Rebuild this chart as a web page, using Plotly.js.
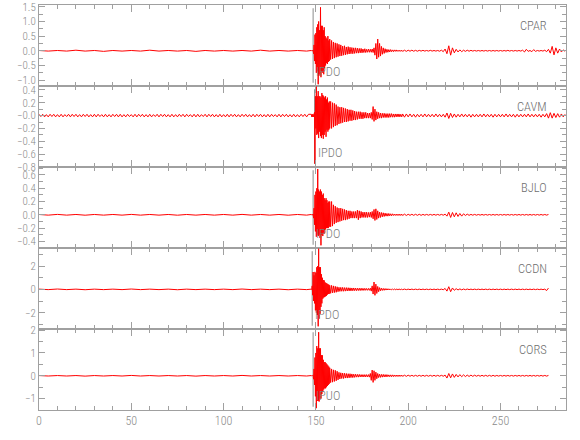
<!DOCTYPE html>
<html><head><meta charset="utf-8">
<script src="https://cdn.plot.ly/plotly-3.0.1.min.js"></script>
<style>html,body{margin:0;padding:0;background:#fff}#chart{width:580px;height:440px}</style>
</head><body><div id="chart"></div>
<script>
const stations = ["CPAR", "CAVM", "BJLO", "CCDN", "CORS"];
const phaseLabels = ["IPDO", "IPDO", "IPDO", "IPDO", "IPUO"];
const pickTimes = [148.5, 149.3, 148.5, 148.0, 148.5];
const xTickVals = [0, 50, 100, 150, 200, 250];
const xTickText = ["0", "50", "100", "150", "200", "250"];
const cavmTickVals = [0.4, 0.2, 0, -0.2, -0.4, -0.6, -0.8];
const cavmTickText = ["0.4", "0.2", "\u22120.0", "\u22120.2", "\u22120.4", "\u22120.6", "\u22120.8"];

// sampling (seconds)
const preStep = [5, 1, 5, 5, 5];          // pre-event, from t = 0
const earlyStart = 147.5, earlyStep = 0.25; // onset segment
const mainStart = 157.5, mainStep = 0.5;   // coda segment
const tailStart = 198, tailStep = 1;       // late segment

// ---- CPAR ----
const cparPre = [0.01,-0.01,0.01,-0.01,0.02,-0.01,0.01,-0.02,0.01,-0.01,
 0.01,-0.01,0.02,-0.01,0.01,-0.01,0.01,-0.02,0.01,-0.01,
 0.01,-0.01,0.01,-0.01,0.02,-0.01,0.01,-0.01,0.01,-0.01];
const cparEarly = [0.01,-0.01,0.01,-0.01,0.02,-0.1,0.2,-0.35,0.55,-0.45,
 0.6,-0.75,0.8,-0.7,0.9,-1.14,1.0,-0.8,0.7,-0.85,
 1.48,-0.9,0.85,-0.7,0.85,-0.75,0.7,-0.8,0.8,-0.6,
 0.5,-0.5,0.45,-0.42,0.4,-0.45,0.5,-0.38,0.35,-0.35];
const cparMain = [0.4,-0.3,0.35,-0.28,0.3,-0.25,0.27,-0.22,0.25,-0.2,
 0.22,-0.18,0.2,-0.17,0.16,-0.15,0.17,-0.14,0.13,-0.12,
 0.14,-0.11,0.12,-0.1,0.11,-0.1,0.1,-0.09,0.1,-0.08,
 0.09,-0.08,0.08,-0.07,0.08,-0.07,0.06,-0.06,0.07,-0.06,
 0.05,-0.05,0.06,-0.05,0.05,-0.05,0.06,-0.06,0.1,-0.15,
 0.25,-0.28,0.4,-0.22,0.25,-0.18,0.15,-0.12,0.1,-0.09,
 0.07,-0.06,0.05,-0.05,0.04,-0.04,0.04,-0.03,0.03,-0.03,
 0.03,-0.02,0.03,-0.02,0.02,-0.02,0.02,-0.02,0.02,-0.02];
const cparTail = [0.02,-0.02,0.02,-0.015,0.02,-0.015,0.015,-0.015,0.015,-0.01,
 0.015,-0.01,0.01,-0.01,0.015,-0.01,0.01,-0.01,0.01,-0.015,
 0.02,-0.03,0.06,-0.1,0.17,-0.15,0.1,-0.07,0.05,-0.04,
 0.03,-0.03,0.02,-0.02,0.02,-0.015,0.015,-0.01,0.01,-0.01,
 0.01,-0.01,0.01,-0.01,0.01,-0.01,0.01,-0.01,0.01,-0.01,
 0.01,-0.01,0.01,-0.01,0.01,-0.01,0.015,-0.01,0.01,-0.01,
 0.01,-0.01,0.01,-0.01,0.02,-0.04,0.05,-0.02,0.01,-0.03,
 0.04,-0.02,0.01,-0.01,0.01,-0.01,0.02,-0.03,0.05,-0.08,
 0.15,-0.14,0.1,-0.08,0.06,-0.04,0.03,-0.02];

// ---- CAVM ----
const cavmPre = [0.02,-0.015,0.02,-0.02,0.015,-0.02,0.02,-0.015,0.02,-0.02,
 0.015,-0.02,0.02,-0.02,0.015,-0.015,0.02,-0.02,0.02,-0.015,
 0.02,-0.02,0.015,-0.02,0.02,-0.015,0.02,-0.02,0.015,-0.02,
 0.02,-0.02,0.02,-0.015,0.015,-0.02,0.02,-0.02,0.015,-0.02,
 0.02,-0.015,0.02,-0.02,0.02,-0.02,0.015,-0.02,0.02,-0.015,
 0.015,-0.02,0.02,-0.02,0.02,-0.015,0.02,-0.02,0.015,-0.02,
 0.02,-0.02,0.015,-0.015,0.02,-0.02,0.02,-0.015,0.02,-0.02,
 0.015,-0.02,0.02,-0.02,0.015,-0.02,0.02,-0.015,0.02,-0.02,
 0.02,-0.015,0.015,-0.02,0.02,-0.02,0.02,-0.02,0.015,-0.015,
 0.02,-0.02,0.02,-0.015,0.02,-0.02,0.015,-0.02,0.02,-0.02,
 0.015,-0.02,0.02,-0.02,0.02,-0.015,0.02,-0.02,0.015,-0.02,
 0.02,-0.015,0.02,-0.02,0.015,-0.02,0.02,-0.02,0.02,-0.015,
 0.02,-0.02,0.015,-0.02,0.02,-0.02,0.02,-0.015,0.015,-0.02,
 0.02,-0.02,0.02,-0.015,0.02,-0.02,0.015,-0.02,0.02,-0.02,
 0.015,-0.02,0.02,-0.015,0.02,-0.02,0.02];
const cavmEarly = [0.02,-0.02,0.02,-0.02,0.02,-0.02,0.02,0.05,-0.75,0.3,
 -0.2,0.45,-0.3,0.3,-0.28,0.38,-0.35,0.3,-0.25,0.3,
 -0.32,0.28,-0.35,0.35,-0.3,0.32,-0.36,0.3,-0.3,0.28,
 -0.25,0.3,-0.33,0.25,-0.22,0.28,-0.25,0.2,-0.22,0.22];
const cavmMain = [-0.2,0.22,-0.2,0.2,-0.18,0.19,-0.16,0.17,-0.15,0.14,
 -0.13,0.13,-0.12,0.13,-0.11,0.12,-0.1,0.11,-0.1,0.1,
 -0.09,0.09,-0.08,0.09,-0.08,0.08,-0.07,0.07,-0.07,0.06,
 -0.06,0.06,-0.05,0.06,-0.05,0.05,-0.05,0.05,-0.04,0.05,
 -0.04,0.04,-0.04,0.04,-0.04,0.05,-0.06,0.14,-0.09,0.1,
 -0.07,0.06,-0.05,0.05,-0.04,0.04,-0.04,0.035,-0.03,0.035,
 -0.03,0.03,-0.03,0.03,-0.03,0.03,-0.025,0.03,-0.025,0.025,
 -0.025,0.025,-0.02,0.025,-0.02,0.025,-0.02,0.02,-0.02,0.025];
const cavmTail = [-0.025,0.025,-0.02,0.025,-0.02,0.02,-0.025,0.02,-0.02,0.02,
 -0.02,0.025,-0.02,0.02,-0.02,0.02,-0.02,0.025,-0.02,0.02,
 -0.02,0.02,-0.025,0.04,-0.045,0.035,-0.03,0.025,-0.025,0.02,
 -0.02,0.025,-0.02,0.02,-0.02,0.02,-0.025,0.02,-0.02,0.02,
 -0.02,0.02,-0.02,0.025,-0.02,0.02,-0.02,0.02,-0.025,0.02,
 -0.02,0.02,-0.02,0.02,-0.02,0.025,-0.02,0.02,-0.02,0.02,
 -0.025,0.02,-0.02,0.02,-0.02,0.02,-0.02,0.025,-0.02,0.02,
 -0.02,0.02,-0.02,0.02,-0.025,0.02,-0.02,0.03,-0.04,0.045,
 -0.04,0.035,-0.03,0.03,-0.025,0.025,-0.02,0.02];

// ---- BJLO ----
const bjloPre = [0.005,-0.005,0.006,-0.005,0.005,-0.006,0.005,-0.005,0.005,-0.005,
 0.006,-0.005,0.005,-0.005,0.005,-0.006,0.005,-0.005,0.005,-0.005,
 0.005,-0.005,0.006,-0.005,0.005,-0.005,0.005,-0.006,0.005,-0.005];
const bjloEarly = [0.005,-0.005,0.005,-0.005,0.01,-0.05,0.1,-0.15,0.3,-0.25,
 0.35,-0.33,0.4,-0.3,0.69,-0.32,0.38,-0.3,0.35,-0.35,
 0.38,-0.46,0.35,-0.3,0.3,-0.32,0.32,-0.28,0.25,-0.28,
 0.22,-0.22,0.25,-0.2,0.22,-0.2,0.18,-0.2,0.2,-0.18];
const bjloMain = [0.2,-0.18,0.2,-0.17,0.15,-0.14,0.13,-0.12,0.11,-0.11,
 0.1,-0.1,0.1,-0.09,0.09,-0.08,0.08,-0.08,0.07,-0.07,
 0.06,-0.06,0.06,-0.05,0.05,-0.05,0.05,-0.05,0.05,-0.05,
 0.07,-0.075,0.06,-0.05,0.05,-0.04,0.04,-0.04,0.04,-0.04,
 0.04,-0.04,0.035,-0.035,0.04,-0.04,0.05,-0.06,0.08,-0.085,
 0.09,-0.07,0.06,-0.05,0.04,-0.04,0.035,-0.03,0.03,-0.025,
 0.025,-0.02,0.02,-0.02,0.02,-0.015,0.015,-0.015,0.015,-0.01,
 0.01,-0.01,0.01,-0.01,0.01,-0.01,0.01,-0.01,0.01,-0.01];
const bjloTail = [0.01,-0.01,0.008,-0.008,0.008,-0.008,0.008,-0.008,0.008,-0.008,
 0.006,-0.006,0.006,-0.006,0.006,-0.006,0.006,-0.006,0.006,-0.006,
 0.006,-0.006,0.01,-0.02,0.04,-0.04,0.035,-0.03,0.03,-0.025,
 0.02,-0.02,0.015,-0.01,0.01,-0.008,0.006,-0.006,0.006,-0.006,
 0.005,-0.005,0.005,-0.005,0.005,-0.005,0.005,-0.005,0.005,-0.005,
 0.005,-0.005,0.005,-0.005,0.005,-0.005,0.005,-0.005,0.005,-0.005,
 0.005,-0.005,0.005,-0.005,0.005,-0.005,0.005,-0.005,0.005,-0.005,
 0.005,-0.005,0.005,-0.005,0.005,-0.005,0.005,-0.005,0.005];

// ---- CCDN ----
const ccdnPre = [0.02,-0.02,0.03,-0.02,0.02,-0.03,0.02,-0.02,0.02,-0.02,
 0.03,-0.02,0.02,-0.02,0.02,-0.03,0.02,-0.02,0.02,-0.02,
 0.02,-0.02,0.03,-0.02,0.02,-0.02,0.02,-0.03,0.02,-0.02];
const ccdnEarly = [0.02,-0.02,0.3,-0.5,1.49,-1.0,1.2,-1.2,1.5,-1.8,
 1.4,-2.0,1.9,-2.2,2.0,-3.17,3.49,-2.5,1.9,-2.1,
 1.9,-1.5,1.3,-1.2,1.0,-0.8,0.8,-0.7,0.77,-0.66,
 0.6,-0.6,0.55,-0.55,0.5,-0.45,0.45,-0.4,0.4,-0.38];
const ccdnMain = [0.35,-0.34,0.34,-0.3,0.3,-0.28,0.26,-0.25,0.22,-0.2,
 0.18,-0.17,0.17,-0.16,0.17,-0.16,0.15,-0.15,0.15,-0.14,
 0.14,-0.13,0.13,-0.13,0.12,-0.12,0.12,-0.11,0.11,-0.11,
 0.1,-0.1,0.1,-0.1,0.1,-0.09,0.09,-0.09,0.09,-0.08,
 0.08,-0.08,0.08,-0.08,0.1,-0.15,0.3,-0.4,0.63,-0.51,
 0.45,-0.35,0.25,-0.2,0.15,-0.12,0.1,-0.09,0.08,-0.08,
 0.07,-0.06,0.06,-0.05,0.05,-0.05,0.04,-0.04,0.04,-0.04,
 0.035,-0.035,0.03,-0.03,0.03,-0.03,0.03,-0.03,0.025,-0.025];
const ccdnTail = [0.025,-0.025,0.02,-0.02,0.02,-0.02,0.02,-0.02,0.02,-0.02,
 0.02,-0.02,0.02,-0.02,0.02,-0.02,0.02,-0.02,0.02,-0.02,
 0.02,-0.03,0.08,-0.15,0.23,-0.2,0.12,-0.08,0.06,-0.05,
 0.04,-0.04,0.03,-0.03,0.03,-0.02,0.02,-0.02,0.02,-0.02,
 0.02,-0.02,0.02,-0.02,0.02,-0.02,0.02,-0.02,0.02,-0.02,
 0.02,-0.02,0.02,-0.02,0.02,-0.02,0.02,-0.02,0.02,-0.02,
 0.02,-0.02,0.02,-0.02,0.02,-0.02,0.02,-0.02,0.02,-0.02,
 0.02,-0.02,0.02,-0.02,0.02,-0.02,0.02,-0.1,0.11];

// ---- CORS ----
const corsPre = [0.01,-0.01,0.01,-0.01,0.01,-0.015,0.01,-0.01,0.01,-0.01,
 0.015,-0.01,0.01,-0.01,0.01,-0.01,0.01,-0.015,0.01,-0.01,
 0.01,-0.01,0.015,-0.01,0.01,-0.01,0.01,-0.01,0.01,-0.01];
const corsEarly = [0.01,-0.01,0.01,-0.01,0.02,-0.15,0.3,-0.4,0.8,-0.9,
 1.0,-1.42,1.3,-1.1,1.2,-1.1,1.91,-1.13,1.2,-1.0,
 1.2,-1.0,0.9,-0.8,0.9,-0.7,0.7,-0.6,0.6,-0.55,
 0.6,-0.55,0.55,-0.5,0.5,-0.45,0.45,-0.4,0.4,-0.35];
const corsMain = [0.35,-0.3,0.3,-0.28,0.26,-0.25,0.24,-0.22,0.2,-0.18,
 0.15,-0.14,0.13,-0.12,0.12,-0.12,0.11,-0.1,0.1,-0.1,
 0.09,-0.09,0.09,-0.08,0.08,-0.08,0.07,-0.07,0.07,-0.06,
 0.06,-0.06,0.06,-0.05,0.05,-0.05,0.05,-0.05,0.05,-0.05,
 0.05,-0.05,0.05,-0.06,0.1,-0.2,0.25,-0.29,0.22,-0.2,
 0.16,-0.13,0.1,-0.08,0.07,-0.07,0.06,-0.06,0.06,-0.05,
 0.05,-0.05,0.05,-0.04,0.04,-0.04,0.04,-0.04,0.04,-0.035,
 0.035,-0.03,0.03,-0.03,0.03,-0.03,0.03,-0.025,0.03,-0.025];
const corsTail = [0.025,-0.025,0.025,-0.02,0.02,-0.02,0.02,-0.02,0.02,-0.02,
 0.02,-0.02,0.02,-0.02,0.02,-0.02,0.02,-0.02,0.02,-0.02,
 0.02,-0.02,0.03,-0.1,0.1,-0.09,0.08,-0.07,0.06,-0.05,
 0.05,-0.04,0.04,-0.035,0.03,-0.03,0.03,-0.025,0.025,-0.02,
 0.02,-0.02,0.02,-0.02,0.02,-0.02,0.02,-0.02,0.02,-0.02,
 0.015,-0.015,0.015,-0.015,0.015,-0.015,0.015,-0.015,0.015,-0.015,
 0.015,-0.015,0.015,-0.015,0.015,-0.015,0.015,-0.015,0.015,-0.015,
 0.015,-0.015,0.015,-0.015,0.015,-0.015,0.015,-0.015,0.015];

const preData = [cparPre, cavmPre, bjloPre, ccdnPre, corsPre];
const earlyData = [cparEarly, cavmEarly, bjloEarly, ccdnEarly, corsEarly];
const mainData = [cparMain, cavmMain, bjloMain, ccdnMain, corsMain];
const tailData = [cparTail, cavmTail, bjloTail, ccdnTail, corsTail];

// ---- layout settings ----
const yRanges = [[-1.2, 1.56], [-0.8, 0.46], [-0.5, 0.72], [-3.4, 3.55], [-1.5, 2.05]];
const yDticks = [0.5, 0.2, 0.2, 2, 1];
const yMinor = [0.25, 0.1, 0.1, 1, 0.5];
const yFormats = [".1f", ".1f", ".1f", "d", "d"];

const FONT = '"Roboto Condensed", "Open Sans", sans-serif';
const AX = '#a0a0a0';
const TXT = '#8a8a8a';

const traces = stations.map((s, i) => {
  const x = [], y = [];
  preData[i].forEach((v, j) => { x.push(j * preStep[i]); y.push(v); });
  earlyData[i].forEach((v, j) => { x.push(earlyStart + j * earlyStep); y.push(v); });
  mainData[i].forEach((v, j) => { x.push(mainStart + j * mainStep); y.push(v); });
  tailData[i].forEach((v, j) => { x.push(tailStart + j * tailStep); y.push(v); });
  const k = i + 1;
  return {
    type: 'scatter', mode: 'lines', x: x, y: y, name: s,
    xaxis: k === 1 ? 'x' : 'x' + k, yaxis: k === 1 ? 'y' : 'y' + k,
    line: { color: '#ff0000', width: 1.0, simplify: false },
    hoverinfo: 'skip', showlegend: false
  };
});

const layout = {
  width: 580, height: 440,
  margin: { l: 39, r: 14, t: 5, b: 30 },
  paper_bgcolor: '#ffffff', plot_bgcolor: '#ffffff',
  font: { family: FONT, size: 12, color: TXT, weight: 300 },
  showlegend: false,
  shapes: [], annotations: []
};

const n = stations.length;
for (let i = 0; i < n; i++) {
  const k = i + 1;
  const xa = k === 1 ? 'xaxis' : 'xaxis' + k;
  const ya = k === 1 ? 'yaxis' : 'yaxis' + k;
  const xid = k === 1 ? 'x' : 'x' + k;
  const yid = k === 1 ? 'y' : 'y' + k;
  layout[xa] = {
    range: [0, 285.5], anchor: yid, domain: [0, 1],
    showline: true, linecolor: AX, linewidth: 1, mirror: 'ticks',
    ticks: 'inside', ticklen: 7, tickcolor: AX, tickwidth: 1,
    tickvals: xTickVals, ticktext: xTickText,
    minor: { ticks: 'inside', ticklen: 4, dtick: 10, tick0: 0, tickcolor: AX, showgrid: false },
    showticklabels: k === n, showgrid: false, zeroline: false,
    tickfont: { family: FONT, size: 12, color: TXT, weight: 300 }
  };
  const yax = {
    range: yRanges[i], anchor: xid,
    domain: [1 - k / n, 1 - i / n],
    showline: true, linecolor: AX, linewidth: 1, mirror: 'ticks',
    ticks: 'inside', ticklen: 6, tickcolor: AX, tickwidth: 1,
    dtick: yDticks[i], tick0: 0, tickformat: yFormats[i],
    minor: { ticks: 'inside', ticklen: 4, dtick: yMinor[i], tick0: 0, tickcolor: AX, showgrid: false },
    showgrid: false, zeroline: false, ticklabeloverflow: 'allow',
    tickfont: { family: FONT, size: 11, color: TXT, weight: 300 }
  };
  if (i === 1) { yax.tickmode = 'array'; yax.tickvals = cavmTickVals; yax.ticktext = cavmTickText; }
  layout[ya] = yax;

  layout.shapes.push({
    type: 'line', xref: xid, yref: yid + ' domain',
    x0: pickTimes[i], x1: pickTimes[i], y0: 0.04, y1: 0.96,
    line: { color: '#8c8c8c', width: 1 }, layer: 'below'
  });
  layout.annotations.push({
    xref: 'paper', yref: yid + ' domain', x: 0.968, y: 0.753,
    xanchor: 'right', yanchor: 'middle', showarrow: false,
    text: stations[i], font: { family: FONT, size: 12.5, color: '#6e6e6e', weight: 300 }
  });
  layout.annotations.push({
    xref: xid, yref: yid + ' domain', x: pickTimes[i], y: 0.185,
    xanchor: 'left', yanchor: 'middle', showarrow: false, xshift: 1,
    text: phaseLabels[i], font: { family: FONT, size: 12.5, color: '#7a7a7a', weight: 300 }
  });
}

Plotly.newPlot('chart', traces, layout, { displayModeBar: false, staticPlot: true });
</script></body></html>
